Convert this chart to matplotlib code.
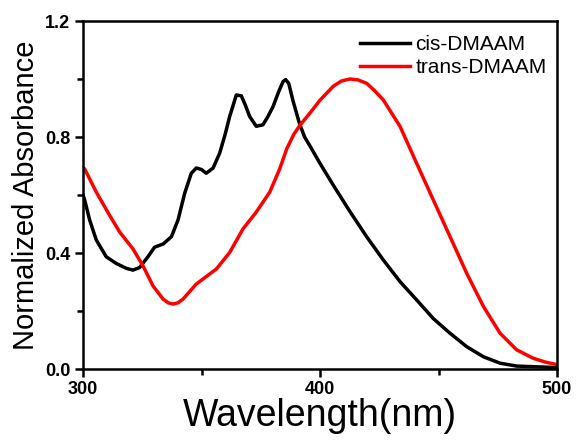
import matplotlib
matplotlib.use('Agg')
import matplotlib.pyplot as plt
from matplotlib.ticker import MultipleLocator

plt.rcParams['font.family'] = ['Liberation Sans', 'DejaVu Sans']

# cis-DMAAM absorbance
cis_wl = [300, 300.7, 302.8, 305.6, 309.8, 314, 318.3, 321.1, 323.9, 327.4, 330.2,
          333.8, 337.3, 340.1, 342.9, 345.7, 347.8, 350, 352, 354.9, 357.7, 360,
          361.9, 364.7, 366.8, 368.5, 370.3, 373.1, 375.9, 378, 380.2, 382.5, 384.4,
          385.5, 386.8, 388.6, 391.4, 393.5, 396, 400, 405.6, 412.7, 419.7, 426.7,
          433.8, 440.8, 447.8, 454.9, 461.9, 469, 476, 483, 490, 500]
cis_abs = [0.6, 0.583, 0.514, 0.445, 0.387, 0.364, 0.347, 0.341, 0.35, 0.387, 0.42,
           0.431, 0.456, 0.514, 0.606, 0.675, 0.693, 0.688, 0.675, 0.693, 0.745, 0.81,
           0.871, 0.945, 0.942, 0.91, 0.871, 0.837, 0.842, 0.87, 0.905, 0.955, 0.991,
           0.998, 0.985, 0.925, 0.845, 0.8, 0.766, 0.709, 0.634, 0.542, 0.456, 0.376,
           0.301, 0.238, 0.174, 0.123, 0.077, 0.042, 0.02, 0.01, 0.008, 0.005]

# trans-DMAAM absorbance
trans_wl = [300, 300.7, 305.6, 311.3, 315.5, 321.1, 325.3, 329.5, 333.8, 336, 338,
            340, 342.2, 347.8, 356.3, 361.9, 367.5, 373.1, 378.8, 383, 386, 389,
            391.6, 396, 400, 405.6, 409, 412.7, 416, 419.7, 423, 426.7, 433.8, 440.8,
            447.8, 454.9, 461.9, 469, 476, 483, 490, 495, 500]
trans_abs = [0.692, 0.69, 0.61, 0.529, 0.472, 0.414, 0.356, 0.287, 0.241, 0.228, 0.224,
             0.228, 0.241, 0.293, 0.345, 0.402, 0.483, 0.541, 0.61, 0.69, 0.76, 0.81,
             0.841, 0.885, 0.927, 0.975, 0.993, 1.0, 0.997, 0.985, 0.96, 0.928, 0.836,
             0.709, 0.583, 0.456, 0.33, 0.215, 0.123, 0.066, 0.037, 0.024, 0.015]

fig = plt.figure(figsize=(5.76, 4.43), dpi=100)
ax = fig.add_axes([83 / 576, 1 - 369 / 443, 474 / 576, 348 / 443])

ax.plot(cis_wl, cis_abs, color='black', lw=2.5, label='cis-DMAAM')
ax.plot(trans_wl, trans_abs, color='red', lw=2.5, label='trans-DMAAM')

ax.set_xlim(300, 500)
ax.set_ylim(0, 1.2)
ax.xaxis.set_major_locator(MultipleLocator(100))
ax.xaxis.set_minor_locator(MultipleLocator(50))
ax.yaxis.set_major_locator(MultipleLocator(0.4))
ax.yaxis.set_minor_locator(MultipleLocator(0.2))
ax.yaxis.set_major_formatter(plt.FormatStrFormatter('%.1f'))

for s in ax.spines.values():
    s.set_linewidth(1.8)
ax.tick_params(which='major', direction='out', length=6, width=1.8, labelsize=13, pad=3)
ax.tick_params(which='minor', direction='out', length=4, width=1.8)
for lab in ax.get_xticklabels() + ax.get_yticklabels():
    lab.set_fontweight('bold')

ax.set_xlabel('Wavelength(nm)', fontsize=27, labelpad=0)
ax.set_ylabel('Normalized Absorbance', fontsize=21, labelpad=4)

ax.legend(loc='upper right', frameon=False, fontsize=15, handlelength=2.4,
          handletextpad=0.25, borderaxespad=0.1, labelspacing=0.2,
          bbox_to_anchor=(1.0, 0.99))

fig.savefig('out.png', dpi=100)
